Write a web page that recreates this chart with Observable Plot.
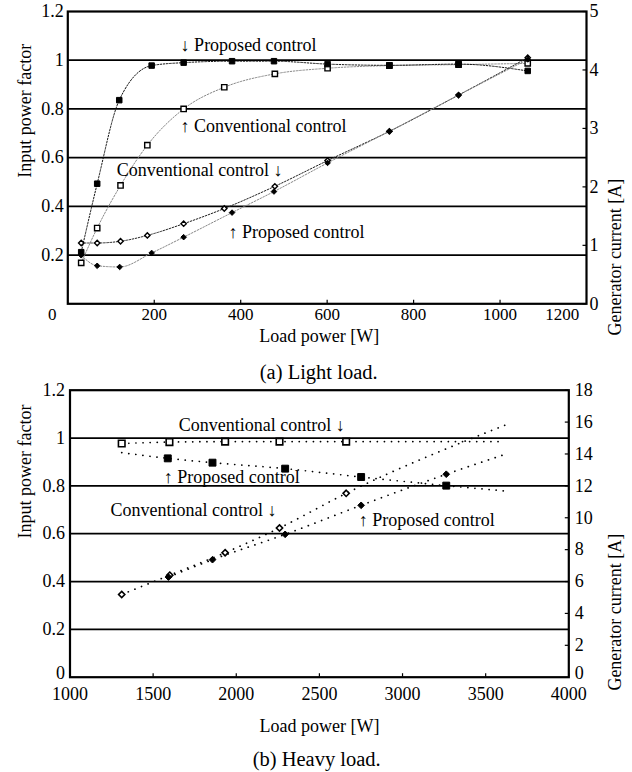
<!DOCTYPE html>
<html>
<head>
<meta charset="utf-8">
<script src="https://cdn.jsdelivr.net/npm/d3@7"></script>
<script src="https://cdn.jsdelivr.net/npm/@observablehq/plot@0.6"></script>
<style>
  body { margin: 0; background: #fff; }
  #wrap { position: relative; width: 632px; height: 772px; overflow: hidden; background: #fff;
          font-family: "Liberation Serif", Tinos, "Times New Roman", Times, "DejaVu Serif", serif; color: #000; }
  #wrap svg, #wrap svg text { font-family: "Liberation Serif", Tinos, "Times New Roman", Times, "DejaVu Serif", serif !important; }
  .panel { position: absolute; left: 0; }
  .cap { position: absolute; left: 0; width: 632px; text-align: center; font-size: 20.5px; white-space: nowrap; }
</style>
</head>
<body>
<div id="wrap"></div>
<script>
// ---------------- (a) Light load ----------------
const lightPropPF_W = [31, 68, 119, 194, 268, 380, 477, 601, 744, 904, 1064];
const lightPropPF   = [0.212, 0.493, 0.836, 0.978, 0.990, 0.996, 0.996, 0.984, 0.979, 0.984, 0.956];
const lightConvPF_W = [31, 68, 122, 184, 268, 362, 479, 601, 744, 904, 1064];
const lightConvPF   = [0.168, 0.311, 0.486, 0.651, 0.800, 0.889, 0.944, 0.967, 0.978, 0.982, 0.987];
const lightPropI_W  = [31, 68, 120, 194, 268, 380, 477, 601, 744, 904, 1064];
const lightPropI    = [0.83, 0.65, 0.63, 0.87, 1.14, 1.56, 1.92, 2.41, 2.95, 3.57, 4.18];
const lightConvI_W  = [31, 68, 122, 184, 268, 362, 479, 601, 744, 904, 1064];
const lightConvI    = [1.04, 1.04, 1.07, 1.17, 1.37, 1.63, 2.01, 2.45, 2.95, 3.57, 4.21];

const lightNotes   = ["\u2193 Proposed control", "\u2191 Conventional control", "Conventional control \u2193", "\u2191 Proposed control"];
const lightNoteW   = [261, 261, 113, 372];
const lightNotePF  = [1.06, 0.731, 0.547, 0.294];

const lightXTicks     = [200, 400, 600, 800, 1000];
const lightXFirstTick = [0];
const lightXLastTick  = [1200];
const lightPFTicks    = [0.2, 0.4, 0.6, 0.8, 1, 1.2];
const lightAmpTicks   = [0, 1, 2, 3, 4, 5];
const lightAmpMax     = 5;

// ---------------- (b) Heavy load ----------------
const heavyConvPF_W = [1311, 1598, 1933, 2260, 2661];
const heavyConvPF   = [0.977, 0.983, 0.985, 0.985, 0.985];
const heavyConvPFTrendEndW = [3609];
const heavyConvPFTrendEnd  = [0.985];

const heavyPropPF_W = [1588, 1857, 2294, 2751, 3263];
const heavyPropPF   = [0.915, 0.897, 0.872, 0.837, 0.801];
const heavyPropPFTrendEndW = [1311, 3609];
const heavyPropPFTrendEnd  = [0.939, 0.779];

const heavyConvI_W = [1311, 1600, 1933, 2260, 2661];
const heavyConvI   = [5.19, 6.40, 7.81, 9.36, 11.53];
const heavyConvITrendEndW = [3639];
const heavyConvITrendEnd  = [15.9];

const heavyPropI_W = [1592, 1857, 2294, 2751, 3263];
const heavyPropI   = [6.28, 7.37, 8.96, 10.78, 12.73];
const heavyPropITrendEndW = [3623];
const heavyPropITrendEnd  = [14.0];

const heavyNotes  = ["Conventional control \u2193", "\u2191 Proposed control", "Conventional control \u2193", "\u2191 Proposed control"];
const heavyNoteW  = [1654, 1564, 1244, 2737];
const heavyNotePF = [1.054, 0.837, 0.698, 0.656];

const heavyXTicks     = [1000, 1500, 2000, 2500, 3000, 3500, 4000];
const heavyPFTicks    = [0.2, 0.4, 0.6, 0.8, 1, 1.2];
const heavyPFZeroTick = [0];
const heavyAmpTicks   = [2, 4, 6, 8, 10, 12, 14, 16, 18];
const heavyAmpZeroTick = [0];
const heavyAmpMax     = 18;

const gridPF = [0.2, 0.4, 0.6, 0.8, 1];
const pfMax = 1.2;

// ---------------- helpers ----------------
const FONT = '"Liberation Serif", Tinos, "Times New Roman", Times, "DejaVu Serif", serif';
const rows = (ws, vs, k = 1) => ws.map((w, i) => ({x: w, y: vs[i] * k}));
const trend = (ws, vs, ew, ev, k = 1) =>
  rows(ws, vs, k).concat(rows(ew, ev, k)).sort((a, b) => a.x - b.x);
const plain = d => String(d);

const wrap = document.getElementById("wrap");
function place(node, top) {
  node.classList.add("panel");
  node.style.top = top + "px";
  wrap.appendChild(node);
}

// ---------------- top panel ----------------
{
  const W = 632, H = 345, mt = 11, mb = 41.7, ml = 67.3, mr = 46;
  const fw = W - ml - mr, fh = H - mt - mb;
  const kA = pfMax / lightAmpMax;
  const dash = "1.6,1.6";
  const chart = Plot.plot({
    width: W, height: H, marginTop: mt, marginBottom: mb, marginLeft: ml, marginRight: mr,
    x: {domain: [0, 1200], axis: null},
    y: {domain: [0, pfMax], axis: null},
    style: {fontFamily: FONT, fontSize: "18px", color: "black", background: "transparent", overflow: "visible"},
    marks: [
      Plot.ruleY(gridPF, {y: d => d, stroke: "black", strokeWidth: 1.8}),
      Plot.frame({stroke: "black", strokeWidth: 2.2}),
      Plot.tickX(lightXTicks, {x: d => d, insetTop: fh - 3.5, stroke: "black", strokeWidth: 1.2}),
      Plot.tickY(lightAmpTicks.map(a => a * kA), {y: d => d, insetLeft: fw - 3.5, stroke: "black", strokeWidth: 1.2}),
      Plot.axisX(lightXTicks, {tickSize: 0, tickPadding: 4, fontSize: 17, tickFormat: plain, label: null}),
      Plot.axisX(lightXFirstTick, {tickSize: 0, tickPadding: 4, fontSize: 17, dx: -15.6, tickFormat: plain, label: null}),
      Plot.axisX(lightXLastTick, {tickSize: 0, tickPadding: 4, fontSize: 17, dx: -24.3, tickFormat: plain, label: null}),
      Plot.axisY(lightPFTicks, {anchor: "left", tickSize: 0, tickPadding: 4, tickFormat: plain, label: null}),
      Plot.axisY(lightAmpTicks.map(a => a * kA), {anchor: "right", tickSize: 0, tickPadding: 3,
        tickFormat: d => String(Math.round(d / kA)), label: null}),

      Plot.line(rows(lightConvPF_W, lightConvPF), {x: "x", y: "y", curve: "monotone-x", stroke: "#888", strokeWidth: 1, strokeDasharray: dash}),
      Plot.line(rows(lightPropPF_W, lightPropPF), {x: "x", y: "y", curve: "monotone-x", stroke: "#111", strokeWidth: 1, strokeDasharray: dash}),
      Plot.line(rows(lightConvI_W, lightConvI, kA), {x: "x", y: "y", curve: "monotone-x", stroke: "#222", strokeWidth: 1, strokeDasharray: dash}),
      Plot.line(rows(lightPropI_W, lightPropI, kA), {x: "x", y: "y", curve: "monotone-x", stroke: "#888", strokeWidth: 1, strokeDasharray: dash}),

      Plot.dot(rows(lightConvPF_W, lightConvPF), {x: "x", y: "y", symbol: "square", r: 3, fill: "white", stroke: "black", strokeWidth: 1.4}),
      Plot.dot(rows(lightConvI_W, lightConvI, kA), {x: "x", y: "y", symbol: "diamond2", r: 2.4, fill: "white", stroke: "black", strokeWidth: 1.4}),
      Plot.dot(rows(lightPropPF_W, lightPropPF), {x: "x", y: "y", symbol: "square", r: 3.1, fill: "black", stroke: "black", strokeWidth: 1}),
      Plot.dot(rows(lightPropI_W, lightPropI, kA), {x: "x", y: "y", symbol: "diamond2", r: 2.5, fill: "black", stroke: "black", strokeWidth: 1}),

      Plot.text(lightNotes, {x: (d, i) => lightNoteW[i], y: (d, i) => lightNotePF[i], text: d => d,
        textAnchor: "start", lineAnchor: "middle", fill: "black"}),

      Plot.text(["Load power [W]"], {text: d => d, frameAnchor: "bottom", dx: -8, dy: 32.5, lineAnchor: "middle"}),
      Plot.text(["Input power factor"], {text: d => d, frameAnchor: "left", rotate: -90, dx: -42.3, dy: 20}),
      Plot.text(["Generator current [A]"], {text: d => d, frameAnchor: "right", rotate: -90, dx: 29, dy: 21})
    ]
  });
  place(chart, 0);
}

// ---------------- bottom panel ----------------
{
  const W = 632, H = 372, mt = 15.7, mb = 69.3, ml = 69.5, mr = 63.7;
  const fw = W - ml - mr, fh = H - mt - mb;
  const kA = pfMax / heavyAmpMax;
  const dots = {stroke: "black", strokeWidth: 1.7, strokeDasharray: "0.1,7", strokeLinecap: "round", curve: "monotone-x"};
  const chart = Plot.plot({
    width: W, height: H, marginTop: mt, marginBottom: mb, marginLeft: ml, marginRight: mr,
    x: {domain: [1000, 4000], axis: null},
    y: {domain: [0, pfMax], axis: null},
    style: {fontFamily: FONT, fontSize: "18px", color: "black", background: "transparent", overflow: "visible"},
    marks: [
      Plot.ruleY(gridPF, {y: d => d, stroke: "black", strokeWidth: 1.8}),
      Plot.frame({stroke: "black", strokeWidth: 2.2}),
      Plot.tickX(heavyXTicks, {x: d => d, insetTop: fh - 3.5, stroke: "black", strokeWidth: 1.2}),
      Plot.tickY(heavyAmpTicks.map(a => a * kA), {y: d => d, insetLeft: fw - 3.5, stroke: "black", strokeWidth: 1.2}),
      Plot.axisX(heavyXTicks, {tickSize: 0, tickPadding: 10, tickFormat: plain, label: null}),
      Plot.axisY(heavyPFTicks, {anchor: "left", tickSize: 0, tickPadding: 5, tickFormat: plain, label: null}),
      Plot.axisY(heavyPFZeroTick, {anchor: "left", tickSize: 0, tickPadding: 5, dy: -4, tickFormat: plain, label: null}),
      Plot.axisY(heavyAmpTicks.map(a => a * kA), {anchor: "right", tickSize: 0, tickPadding: 6,
        tickFormat: d => String(Math.round(d / kA)), label: null}),
      Plot.axisY(heavyAmpZeroTick.map(a => a * kA), {anchor: "right", tickSize: 0, tickPadding: 6, dy: -4,
        tickFormat: d => String(Math.round(d / kA)), label: null}),

      Plot.line(trend(heavyConvPF_W, heavyConvPF, heavyConvPFTrendEndW, heavyConvPFTrendEnd), {x: "x", y: "y", ...dots}),
      Plot.line(trend(heavyPropPF_W, heavyPropPF, heavyPropPFTrendEndW, heavyPropPFTrendEnd), {x: "x", y: "y", ...dots}),
      Plot.line(trend(heavyConvI_W, heavyConvI, heavyConvITrendEndW, heavyConvITrendEnd, kA), {x: "x", y: "y", ...dots}),
      Plot.line(trend(heavyPropI_W, heavyPropI, heavyPropITrendEndW, heavyPropITrendEnd, kA), {x: "x", y: "y", ...dots}),

      Plot.dot(rows(heavyConvPF_W, heavyConvPF), {x: "x", y: "y", symbol: "square", r: 3.7, fill: "white", stroke: "black", strokeWidth: 1.6}),
      Plot.dot(rows(heavyConvI_W, heavyConvI, kA), {x: "x", y: "y", symbol: "diamond2", r: 2.8, fill: "white", stroke: "black", strokeWidth: 1.6}),
      Plot.dot(rows(heavyPropPF_W, heavyPropPF), {x: "x", y: "y", symbol: "square", r: 3.9, fill: "black", stroke: "black", strokeWidth: 1}),
      Plot.dot(rows(heavyPropI_W, heavyPropI, kA), {x: "x", y: "y", symbol: "diamond2", r: 3, fill: "black", stroke: "black", strokeWidth: 1}),

      Plot.text(heavyNotes, {x: (d, i) => heavyNoteW[i], y: (d, i) => heavyNotePF[i], text: d => d,
        textAnchor: "start", lineAnchor: "middle", fill: "black"}),

      Plot.text(["Load power [W]"], {text: d => d, frameAnchor: "bottom", dx: 0, dy: 48.6, lineAnchor: "middle"}),
      Plot.text(["Input power factor"], {text: d => d, frameAnchor: "left", rotate: -90, dx: -44.5, dy: 4.8}),
      Plot.text(["Generator current [A]"], {text: d => d, frameAnchor: "right", rotate: -90, dx: 46.7, dy: 0})
    ]
  });
  place(chart, 374);
}

// ---------------- captions ----------------
function caption(text, centerY, centerX) {
  const d = document.createElement("div");
  d.className = "cap";
  d.textContent = text;
  d.style.top = (centerY - 13) + "px";
  d.style.height = "26px";
  d.style.lineHeight = "26px";
  d.style.left = (centerX - 316) + "px";
  wrap.appendChild(d);
}
caption("(a) Light load.", 372, 318.7);
caption("(b) Heavy load.", 759.3, 316.7);
</script>
</body>
</html>
